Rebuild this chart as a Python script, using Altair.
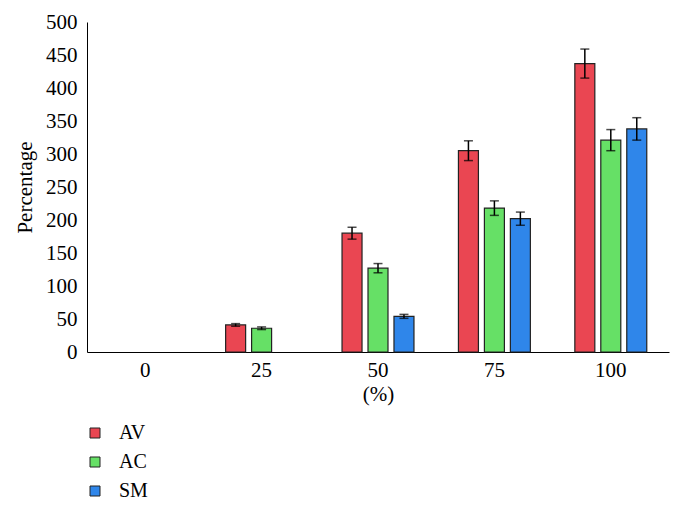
import altair as alt
import pandas as pd

categories = ["0", "25", "50", "75", "100"]
series = ["AV", "AC", "SM"]
colors = ["#ea4652", "#66e066", "#2f86ea"]
y_ticks = [0, 50, 100, 150, 200, 250, 300, 350, 400, 450, 500]

# bars present in the picture (concentration, series, value, error)
bar_conc = ["25", "25", "50", "50", "50", "75", "75", "75", "100", "100", "100"]
bar_series = ["AV", "AC", "AV", "AC", "SM", "AV", "AC", "SM", "AV", "AC", "SM"]
bar_value = [41, 36, 180, 127, 54, 305, 218, 202, 437, 321, 338]
bar_error = [2, 2, 9, 7, 3, 15, 11, 10, 22, 16, 17]

df = pd.DataFrame({
    "conc": bar_conc,
    "series": bar_series,
    "value": bar_value,
    "err": bar_error,
})
df["lo"] = df["value"] - df["err"]
df["hi"] = df["value"] + df["err"]

FONT = "Liberation Serif"
FS = 21

x = alt.X(
    "conc:N",
    scale=alt.Scale(domain=categories, paddingInner=0.382, paddingOuter=0.191),
    axis=alt.Axis(title="(%)", labelAngle=0, ticks=False, labelPadding=7,
                  titlePadding=3),
)
xo = alt.XOffset("series:N", scale=alt.Scale(domain=series, paddingInner=0.23, paddingOuter=0))
y_scale = alt.Scale(domain=[0, 500])
y_axis = alt.Axis(title="Percentage", values=y_ticks, labelOverlap=False,
                  ticks=False, labelPadding=10, titlePadding=10)

bars = alt.Chart(df).mark_bar(stroke="#222222", strokeWidth=1.2).encode(
    x=x,
    xOffset=xo,
    y=alt.Y("value:Q", scale=y_scale, axis=y_axis),
    color=alt.Color("series:N", scale=alt.Scale(domain=series, range=colors),
                    legend=alt.Legend(title=None, orient="none", legendX=-2, legendY=401,
                                      symbolType="square", symbolSize=100,
                                      symbolStrokeColor="#222222", symbolStrokeWidth=1,
                                      labelOffset=14, rowPadding=9, padding=0)),
)

rules = alt.Chart(df).mark_rule(color="black", strokeWidth=1.5).encode(
    x=x, xOffset=xo, y=alt.Y("lo:Q", scale=y_scale, axis=y_axis), y2="hi:Q"
)
cap_hi = alt.Chart(df).mark_tick(color="black", thickness=1.5, size=9).encode(
    x=x, xOffset=xo, y=alt.Y("hi:Q", scale=y_scale, axis=y_axis)
)
cap_lo = alt.Chart(df).mark_tick(color="black", thickness=1.5, size=9).encode(
    x=x, xOffset=xo, y=alt.Y("lo:Q", scale=y_scale, axis=y_axis)
)

chart = alt.layer(bars, rules, cap_hi, cap_lo).properties(
    width=582, height=330,
    autosize=alt.AutoSizeParams(type="none"),
    padding={"left": 79, "top": 14, "right": 1, "bottom": 151},
).configure_view(stroke=None).configure_axis(
    labelFont=FONT, titleFont=FONT, labelFontSize=FS, titleFontSize=FS,
    labelColor="black", titleColor="black", titleFontWeight="normal",
    domainColor="black", domainWidth=1, grid=False,
).configure_axisY(labelOverlap=False).configure_legend(
    labelFont=FONT, labelFontSize=20, labelColor="black",
)

chart.save("out.html", embed_options={"renderer": "svg", "actions": False})
